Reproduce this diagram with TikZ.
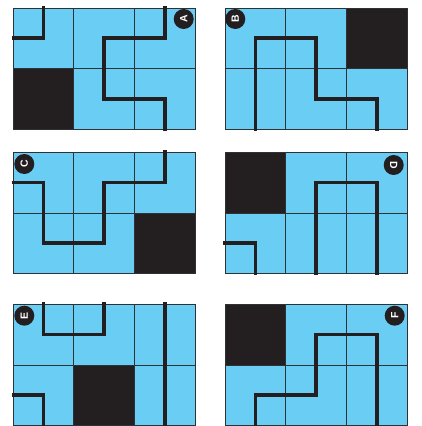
\documentclass[tikz,border=0pt]{standalone}
\usepackage{fontspec}
\setsansfont{Liberation Sans}
\definecolor{tileblue}{HTML}{6ACDF3}
\definecolor{ink}{HTML}{231F20}
\definecolor{gridc}{HTML}{2E3236}
\tikzset{
  panelbg/.style={fill=tileblue},
  darkcell/.style={fill=ink},
  gridline/.style={draw=gridc,line width=0.8pt},
  route/.style={draw=ink,line width=3.7pt,line join=miter},
  tag/.style={circle,fill=ink,text=white,inner sep=0pt,minimum size=20pt,font=\sffamily\bfseries\fontsize{10.5}{10.5}\selectfont}
}
\newcommand{\panelgrid}{%
  \fill[panelbg] (0,0) rectangle (182,121.3);
}
\newcommand{\gridlines}{%
  \draw[gridline] (0,0) rectangle (182,121.3);
  \draw[gridline] (60.7,0) -- (60.7,121.3);
  \draw[gridline] (121.3,0) -- (121.3,121.3);
  \draw[gridline] (0,60.65) -- (182,60.65);
}
\begin{document}
\begin{tikzpicture}[x=1pt,y=-1pt]
\useasboundingbox (0,0) rectangle (422,426);
% Panel A
\begin{scope}[shift={(13,8)}]
  \panelgrid
  \fill[darkcell] (0,60.65) rectangle (60.7,121.3);
  \gridlines
  \draw[route] (-1.5,30.3) -- (30.35,30.3) -- (30.35,-2);
  \draw[route] (151.7,-2) -- (151.7,30.3) -- (91,30.3) -- (91,91) -- (151.7,91) -- (151.7,123);
  \node[tag,rotate=90] (la) at (170.7,11) {A};
\end{scope}
% Panel B
\begin{scope}[shift={(225,8)}]
  \panelgrid
  \fill[darkcell] (121.3,0) rectangle (182,60.65);
  \gridlines
  \draw[route] (30.35,123) -- (30.35,30.3) -- (91,30.3) -- (91,91) -- (151.7,91) -- (151.7,123);
  \node[tag,rotate=90] (lb) at (10.3,11) {B};
\end{scope}
% Panel C
\begin{scope}[shift={(13,152.3)}]
  \panelgrid
  \fill[darkcell] (121.3,60.65) rectangle (182,121.3);
  \gridlines
  \draw[route] (-1.5,30.3) -- (30.35,30.3) -- (30.35,91) -- (91,91) -- (91,30.3) -- (151.7,30.3) -- (151.7,-2);
  \node[tag,rotate=90] (lc) at (11.3,11.7) {C};
\end{scope}
% Panel D
\begin{scope}[shift={(225,152.3)}]
  \panelgrid
  \fill[darkcell] (0,0) rectangle (60.7,60.65);
  \gridlines
  \draw[route] (-2,91) -- (30.35,91) -- (30.35,123);
  \draw[route] (91,123) -- (91,30.3) -- (151.7,30.3) -- (151.7,123);
  \node[tag,rotate=-90] (ld) at (168.7,12.7) {D};
\end{scope}
% Panel E
\begin{scope}[shift={(13,304.3)}]
  \panelgrid
  \fill[darkcell] (60.7,60.65) rectangle (121.3,121.3);
  \gridlines
  \draw[route] (30.35,-2) -- (30.35,30.3) -- (91,30.3) -- (91,-2);
  \draw[route] (151.7,-2) -- (151.7,123);
  \draw[route] (-1.5,91) -- (30.35,91) -- (30.35,123);
  \node[tag,rotate=90] (le) at (11.3,11.4) {E};
\end{scope}
% Panel F
\begin{scope}[shift={(225,304.3)}]
  \panelgrid
  \fill[darkcell] (0,0) rectangle (60.7,60.65);
  \gridlines
  \draw[route] (30.35,123) -- (30.35,91) -- (91,91) -- (91,30.3) -- (151.7,30.3) -- (151.7,123);
  \node[tag,rotate=90] (lf) at (169.7,11.4) {F};
\end{scope}
\end{tikzpicture}
\end{document}
